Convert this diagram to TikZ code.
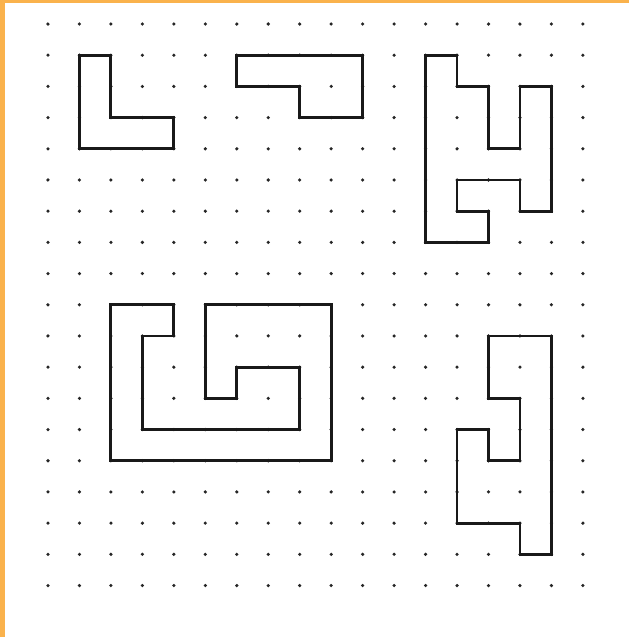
\documentclass[tikz,border=0pt]{standalone}
\definecolor{frameorange}{RGB}{250,178,76}
\begin{document}
\begin{tikzpicture}[x=1cm,y=0.9914cm,
  figline/.style={line width=2.6pt,line join=miter,black!90},
  gridpt/.style={fill=black!85}]
\useasboundingbox (-1.525,0.77) rectangle (18.465,-19.65);
\fill[white] (-1.525,0.77) rectangle (18.465,-19.65);
\fill[frameorange] (-1.525,0.77) rectangle (-1.36,-19.65);
\fill[frameorange] (-1.525,0.77) rectangle (18.465,0.67);
\foreach \i in {0,...,17}
  \foreach \j in {0,...,18}
    \fill[gridpt] (\i,-\j) circle (1.6pt);
\draw[figline] (1,-1) -- (2,-1) -- (2,-3) -- (4,-3) -- (4,-4) -- (1,-4) -- cycle;
\draw[figline] (6,-1) -- (10,-1) -- (10,-3) -- (8,-3) -- (8,-2) -- (6,-2) -- cycle;
\draw[figline] (12,-1) -- (13,-1) -- (13,-2) -- (14,-2) -- (14,-4) -- (15,-4) -- (15,-2)
  -- (16,-2) -- (16,-6) -- (15,-6) -- (15,-5) -- (13,-5) -- (13,-6) -- (14,-6) -- (14,-7)
  -- (12,-7) -- cycle;
\draw[figline] (2,-9) -- (4,-9) -- (4,-10) -- (3,-10) -- (3,-13) -- (8,-13) -- (8,-11)
  -- (6,-11) -- (6,-12) -- (5,-12) -- (5,-9) -- (9,-9) -- (9,-14) -- (2,-14) -- cycle;
\draw[figline] (14,-10) -- (16,-10) -- (16,-17) -- (15,-17) -- (15,-16) -- (13,-16)
  -- (13,-13) -- (14,-13) -- (14,-14) -- (15,-14) -- (15,-12) -- (14,-12) -- cycle;
\end{tikzpicture}
\end{document}
